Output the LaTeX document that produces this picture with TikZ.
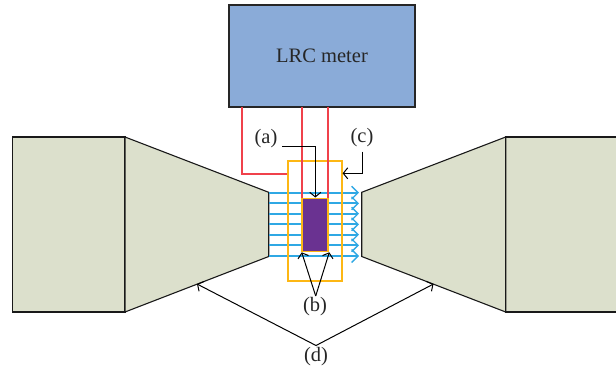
\documentclass[tikz,border=0pt]{standalone}
\usepackage{fontspec}
\setmainfont{Liberation Serif}
\usetikzlibrary{arrows.meta}
\definecolor{boxblue}{HTML}{8AABD8}
\definecolor{horn}{HTML}{DCE0CC}
\definecolor{wire}{HTML}{F0414B}
\definecolor{fieldblue}{HTML}{2FA8E4}
\definecolor{coil}{HTML}{FDB714}
\definecolor{sample}{HTML}{6A3291}
\tikzset{
 px/.style={x=1pt,y=-1pt},
 hornpart/.style={draw=black!90,fill=horn,line width=1.1pt,line join=miter},
 wireline/.style={draw=wire,line width=1.4pt},
 fieldline/.style={draw=fieldblue,line width=1.7pt,-{Straight Barb[length=6.5pt,width=13pt,line width=1.3pt]}},
 coilbox/.style={draw=coil,line width=1.8pt},
 pointer/.style={draw=black,line width=1pt,-{Straight Barb[length=4.5pt,width=11pt,line width=1pt]}},
 lbl/.style={font=\fontsize{20.5}{24}\selectfont,text=black!85,inner sep=0pt}
}
\begin{document}
\begin{tikzpicture}[px]
\useasboundingbox (0,0) rectangle (616,375);
\node[draw=black!85,fill=boxblue,line width=1.2pt,minimum width=186pt,minimum height=102pt,inner sep=0pt,font=\fontsize{20.5}{24}\selectfont,text=black!85] (meter) at (322,56) {LRC meter};
% horns
\draw[hornpart] (12.7,137) rectangle (125,312);
\draw[hornpart] (125,137) -- (268.7,192.3) -- (268.7,256.5) -- (125,312) -- cycle;
\fill[horn] (505.7,137) rectangle (617,312);
\draw[hornpart,fill=none] (617,137) -- (505.7,137) -- (505.7,312) -- (617,312);
\draw[hornpart] (505.7,137) -- (361.7,192.3) -- (361.7,256.5) -- (505.7,312) -- cycle;
% field lines
\foreach \y [count=\i] in {192.7,203.3,213.7,224.3,234.7,245.3,256}{
  \coordinate (fa\i) at (269.4,\y);
  \coordinate (fb\i) at (359,\y);
  \draw[fieldline] (fa\i) -- (fb\i);
}
% coil
\node[coilbox,minimum width=53.6pt,minimum height=119.6pt,inner sep=0pt] (coilb) at (315,220.8) {};
% sample
\node[draw=coil,fill=sample,line width=1.4pt,minimum width=26pt,minimum height=52.6pt,inner sep=0pt] (samp) at (315,225) {};
% wires
\coordinate (w1) at (242,173.8);
\coordinate (m1) at (242,107);
\coordinate (m2) at (302,107);
\coordinate (m3) at (328,107);
\draw[wireline] (m1) -- (w1) -- (coilb.west |- w1);
\draw[wireline] (m2) -- (m2 |- samp.north);
\draw[wireline] (m3) -- (m3 |- samp.north);
% labels
\node[lbl] (a) at (266,139) {(a)};
\node[lbl] (c) at (362,138) {(c)};
\node[lbl] (b) at (315,307) {(b)};
\node[lbl] (d) at (316,357) {(d)};
\coordinate (ac) at (315.3,146);
\coordinate (at) at (315.3,197.5);
\draw[pointer] (282,146) -- (ac) -- (at);
\coordinate (cs) at (362,151.7);
\coordinate (cc) at (362,173.3);
\coordinate (ct) at (342.6,173.3);
\draw[pointer] (cs) -- (cc) -- (ct);
\coordinate (bj) at (315.7,296);
\coordinate (bl) at (301.7,252.3);
\coordinate (br) at (329.3,252.3);
\draw[pointer] (bj) -- (bl);
\draw[pointer] (bj) -- (br);
\coordinate (dj) at (316,345.5);
\coordinate (dl) at (197,284);
\coordinate (dr) at (433.5,284);
\draw[pointer] (dj) -- (dl);
\draw[pointer] (dj) -- (dr);
\end{tikzpicture}
\end{document}
